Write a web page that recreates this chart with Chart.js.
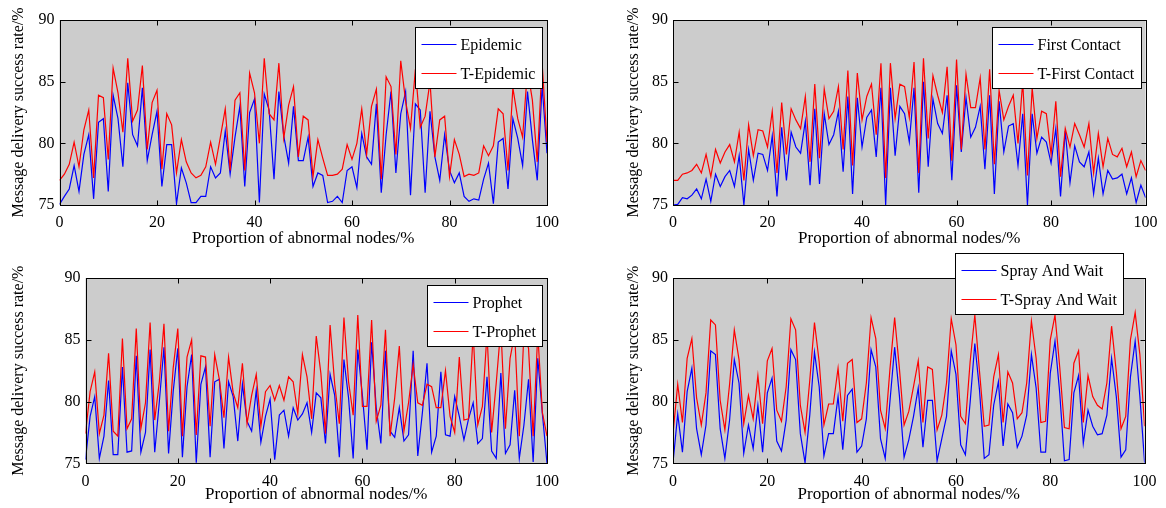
<!DOCTYPE html>
<html>
<head>
<meta charset="utf-8">
<script src="https://cdn.jsdelivr.net/npm/chart.js@4.4.1/dist/chart.umd.min.js"></script>
<style>
  html, body { margin: 0; padding: 0; background: #fff; }
  #page { position: relative; width: 1166px; height: 508px; overflow: hidden; }
  canvas { position: absolute; }
</style>
</head>
<body>
<div id="page">
  <canvas id="c-epidemic" width="583" height="250" style="left:0;top:0"></canvas>
  <canvas id="c-first" width="583" height="250" style="left:583px;top:0"></canvas>
  <canvas id="c-prophet" width="583" height="258" style="left:0;top:250px"></canvas>
  <canvas id="c-spray" width="583" height="258" style="left:583px;top:250px"></canvas>
</div>
<script>
// x axis: proportion of abnormal nodes (%), one point per percent
const nodes = Array.from({ length: 101 }, (_, i) => i);
const xTicks = [0, 20, 40, 60, 80, 100];
const yTicks = [75, 80, 85, 90];

// values
const epidemic = [75.05, 75.7, 76.3, 78.2, 76.1, 79.1, 80.7, 75.5, 81.7, 82.0, 76.1, 83.9, 82.0, 78.1, 84.9, 80.7, 79.8, 84.5, 78.6, 80.7,
  82.6, 76.5, 79.9, 79.9, 75.1, 78.0, 76.8, 75.2, 75.2, 75.7, 75.7, 78.1, 77.2, 77.6, 81.0, 77.5, 80.5, 83.0, 76.5, 82.5,
  83.6, 75.2, 84.0, 82.7, 77.1, 84.2, 80.6, 78.4, 83.0, 78.6, 78.6, 80.5, 76.5, 77.6, 77.4, 75.2, 75.3, 75.7, 75.2, 77.8,
  78.1, 76.4, 80.8, 78.9, 78.3, 83.2, 76.0, 80.7, 84.2, 77.6, 82.4, 84.2, 75.8, 83.2, 82.7, 76.0, 82.6, 78.9, 77.0, 80.7,
  77.8, 76.8, 77.6, 75.7, 75.3, 75.5, 75.4, 77.1, 78.4, 75.1, 80.1, 80.4, 76.3, 82.0, 80.4, 78.2, 84.2, 80.3, 77.0, 84.7, 79.2];
const tEpidemic = [77.0, 77.5, 78.3, 80.1, 78.1, 81.1, 82.7, 77.2, 83.9, 83.7, 78.7, 86.1, 84.1, 80.9, 86.9, 81.8, 82.7, 86.3, 79.5, 83.3,
  84.3, 77.9, 82.4, 81.5, 77.6, 80.3, 78.5, 77.6, 77.2, 77.4, 78.1, 80.1, 78.3, 80.5, 82.8, 77.8, 83.5, 84.1, 77.8, 85.7,
  84.1, 80.0, 86.9, 82.4, 81.9, 86.5, 80.4, 83.1, 84.6, 78.9, 82.2, 81.9, 77.3, 80.3, 78.8, 77.4, 77.4, 77.5, 77.9, 79.9,
  78.7, 80.0, 82.8, 79.1, 83.0, 84.4, 77.1, 85.4, 84.6, 79.1, 86.7, 83.4, 81.2, 86.0, 81.3, 82.2, 85.0, 78.9, 81.9, 82.2,
  77.3, 80.3, 79.1, 77.3, 77.5, 77.4, 77.6, 79.8, 79.0, 79.8, 82.8, 82.4, 77.8, 84.5, 82.0, 80.5, 86.0, 83.5, 78.5, 86.5, 80.1];

const firstContact = [75.0, 75.05, 75.6, 75.5, 75.8, 76.3, 75.5, 77.1, 75.3, 77.5, 76.5, 77.3, 77.8, 76.5, 79.0, 75.0, 79.5, 77.0, 79.2, 79.1,
  77.8, 80.6, 75.7, 81.3, 77.0, 80.9, 79.7, 79.2, 81.8, 76.6, 82.8, 76.7, 82.4, 79.9, 80.7, 82.6, 77.7, 83.8, 75.9, 83.7,
  79.7, 82.1, 82.7, 78.9, 84.5, 75.0, 84.5, 79.0, 83.0, 82.4, 80.1, 84.5, 76.0, 85.0, 78.1, 83.6, 81.6, 80.8, 83.9, 77.0,
  84.7, 79.3, 83.7, 80.5, 81.3, 83.0, 77.9, 83.9, 75.9, 83.4, 79.3, 81.4, 81.6, 78.2, 82.4, 75.0, 82.4, 79.2, 80.5, 80.1,
  78.4, 81.2, 75.7, 81.0, 76.8, 79.8, 78.5, 78.1, 79.3, 75.9, 78.8, 75.9, 77.8, 77.1, 77.2, 77.5, 75.9, 77.2, 75.2, 76.6, 75.6];
const tFirstContact = [77.0, 77.0, 77.5, 77.6, 77.8, 78.3, 77.6, 79.1, 77.3, 79.5, 78.4, 79.3, 79.9, 78.5, 80.9, 77.0, 81.5, 79.0, 81.1, 81.0,
  79.7, 82.6, 77.6, 83.3, 79.1, 82.8, 81.9, 81.2, 83.8, 78.5, 84.8, 78.8, 84.4, 82.0, 82.6, 84.6, 79.5, 85.9, 78.2, 85.7,
  81.9, 83.8, 84.8, 80.7, 86.5, 77.2, 86.5, 82.0, 84.8, 84.6, 82.1, 86.6, 77.6, 86.9, 80.4, 85.5, 83.9, 82.5, 86.2, 78.6,
  86.8, 79.5, 85.6, 82.9, 82.9, 85.3, 79.5, 86.0, 78.3, 84.3, 81.9, 83.0, 83.9, 80.0, 85.0, 77.4, 84.5, 80.4, 82.6, 82.4,
  79.1, 83.4, 77.3, 81.2, 79.7, 81.6, 80.7, 79.7, 81.6, 77.6, 80.8, 78.1, 80.4, 79.1, 78.9, 79.6, 78.1, 79.3, 77.3, 78.6, 77.8];

const prophet = [75.3, 78.8, 80.4, 75.4, 77.2, 81.7, 75.7, 75.7, 82.8, 75.9, 76.0, 83.7, 75.9, 77.5, 84.2, 75.9, 80.0, 84.4, 75.8, 80.8,
  84.3, 75.5, 81.2, 83.8, 75.05, 81.4, 82.8, 75.5, 81.6, 81.8, 76.2, 81.6, 80.4, 76.8, 81.4, 78.4, 77.6, 80.9, 76.7, 78.8,
  80.2, 75.3, 78.9, 79.3, 77.2, 79.5, 78.5, 79.0, 79.9, 77.5, 80.7, 80.3, 76.6, 82.2, 80.5, 75.5, 83.4, 80.3, 75.4, 84.2,
  80.5, 76.1, 84.8, 79.5, 76.6, 84.1, 77.6, 77.1, 79.5, 76.8, 77.3, 84.1, 75.6, 79.1, 83.1, 75.9, 77.2, 82.4, 77.3, 77.2,
  80.4, 78.8, 76.9, 78.6, 79.9, 76.6, 77.0, 82.0, 76.0, 75.4, 82.3, 75.8, 76.5, 80.9, 75.4, 78.1, 81.8, 75.1, 83.5, 79.0, 75.0];
const tProphet = [77.4, 80.8, 82.4, 77.4, 78.9, 83.9, 77.6, 77.2, 85.1, 77.8, 78.6, 85.9, 77.8, 79.9, 86.4, 78.5, 81.6, 86.3, 77.6, 82.7,
  85.9, 77.2, 83.6, 85.0, 77.3, 83.7, 83.6, 78.0, 83.8, 81.8, 78.7, 83.6, 80.7, 79.5, 83.1, 78.2, 80.5, 82.2, 78.0, 80.8,
  81.3, 80.1, 81.3, 80.1, 82.0, 81.6, 79.0, 83.8, 82.0, 78.6, 85.3, 82.3, 77.4, 86.2, 81.4, 78.2, 86.8, 81.6, 78.9, 87.0,
  79.6, 79.6, 86.6, 78.4, 79.7, 85.8, 77.2, 80.3, 84.5, 77.6, 79.9, 83.0, 79.9, 79.7, 81.4, 81.2, 79.5, 79.5, 82.5, 78.8,
  77.5, 83.6, 78.5, 78.6, 85.5, 78.1, 79.6, 85.5, 77.5, 81.5, 86.0, 77.8, 83.5, 85.5, 77.2, 85.5, 84.3, 77.2, 85.5, 79.1, 77.2];

const sprayWait = [75.05, 79.0, 75.9, 80.8, 82.7, 77.8, 75.7, 78.1, 84.1, 83.8, 77.8, 75.4, 78.5, 83.4, 81.5, 75.8, 78.1, 76.2, 79.7, 75.9,
  80.7, 81.9, 76.8, 76.0, 78.5, 84.2, 83.4, 77.4, 75.05, 78.9, 84.0, 81.2, 75.6, 77.4, 77.4, 80.4, 76.1, 80.5, 81.0, 75.9,
  76.4, 78.6, 84.2, 82.8, 77.0, 75.4, 80.0, 84.4, 80.5, 75.5, 76.9, 78.8, 81.1, 76.3, 80.1, 80.1, 75.2, 77.0, 78.8, 84.1,
  82.2, 76.5, 75.7, 79.9, 84.7, 80.9, 75.4, 75.7, 79.7, 81.6, 76.4, 79.8, 79.1, 76.3, 77.2, 78.9, 83.8, 81.1, 75.9, 75.9,
  82.3, 84.9, 80.7, 75.2, 75.3, 80.7, 82.1, 76.6, 79.3, 78.0, 77.3, 77.4, 78.9, 83.5, 80.4, 75.5, 76.1, 82.0, 84.9, 80.4, 75.05];
const tSprayWait = [77.4, 81.4, 78.3, 83.5, 85.1, 80.3, 78.1, 80.7, 86.6, 86.2, 80.1, 77.7, 81.4, 85.8, 83.4, 78.2, 80.5, 78.6, 82.1, 78.2,
  83.3, 84.3, 79.3, 78.4, 81.2, 86.7, 85.8, 79.7, 77.5, 81.7, 86.4, 83.2, 78.1, 79.8, 79.8, 82.7, 78.4, 83.1, 83.4, 78.3,
  78.6, 81.5, 86.8, 85.1, 79.3, 77.8, 82.6, 86.8, 82.7, 78.1, 79.2, 81.2, 83.3, 78.3, 82.8, 82.6, 77.7, 78.9, 81.5, 86.7,
  84.6, 78.8, 78.2, 83.2, 87.0, 82.4, 78.0, 78.1, 82.0, 83.8, 78.3, 82.4, 81.5, 78.6, 79.1, 81.5, 86.5, 83.5, 78.3, 78.4,
  85.0, 87.0, 82.8, 77.9, 77.8, 83.1, 84.1, 78.3, 82.1, 80.4, 79.7, 79.4, 81.5, 86.1, 82.4, 77.8, 78.8, 85.0, 87.2, 83.8, 78.0];

Chart.defaults.font.family = '"Liberation Serif", "Times New Roman", serif';
Chart.defaults.color = '#000';

// gray axes background, box and inward tick marks like a MATLAB figure
const matlabAxes = {
  id: 'matlabAxes',
  beforeDatasetsDraw(chart) {
    const { ctx, chartArea: a } = chart;
    ctx.save();
    ctx.fillStyle = '#cccccc';
    ctx.fillRect(a.left, a.top, a.right - a.left, a.bottom - a.top);
    ctx.restore();
  },
  afterDatasetsDraw(chart) {
    const { ctx, chartArea: a, scales: { x, y } } = chart;
    const l = Math.round(a.left) + 0.5, r = Math.round(a.right) + 0.5;
    const t = Math.round(a.top) + 0.5, b = Math.round(a.bottom) + 0.5;
    ctx.save();
    ctx.strokeStyle = '#000';
    ctx.lineWidth = 1;
    ctx.beginPath();
    x.ticks.forEach(tk => {
      const px = Math.round(x.getPixelForValue(tk.value)) + 0.5;
      ctx.moveTo(px, b); ctx.lineTo(px, b - 5);
      ctx.moveTo(px, t); ctx.lineTo(px, t + 5);
    });
    y.ticks.forEach(tk => {
      const py = Math.round(y.getPixelForValue(tk.value)) + 0.5;
      ctx.moveTo(l, py); ctx.lineTo(l + 5, py);
      ctx.moveTo(r, py); ctx.lineTo(r - 5, py);
    });
    ctx.stroke();
    ctx.strokeRect(l, t, r - l, b - t);
    ctx.restore();
  }
};

// legend in a white framed box
const boxLegend = {
  id: 'boxLegend',
  afterDraw(chart, args, opts) {
    const { ctx, chartArea: a } = chart;
    const sets = chart.data.datasets;
    ctx.save();
    ctx.font = '16px "Liberation Serif", "Times New Roman", serif';
    const textW = Math.max(...sets.map(d => ctx.measureText(d.label).width));
    const w = Math.round(6 + 35 + 4 + textW + 7);
    const h = 61;
    const left = Math.round(a.right - opts.right - w) + 0.5;
    const top = Math.round(a.top + opts.top) + 0.5;
    ctx.fillStyle = '#fff';
    ctx.fillRect(left, top, w, h);
    ctx.strokeStyle = '#000';
    ctx.lineWidth = 1;
    ctx.strokeRect(left, top, w, h);
    sets.forEach((d, i) => {
      const yy = Math.round(top + 16 + i * 29) + 0.5;
      ctx.strokeStyle = d.borderColor;
      ctx.beginPath();
      ctx.moveTo(left + 6, yy);
      ctx.lineTo(left + 41, yy);
      ctx.stroke();
      ctx.fillStyle = '#000';
      ctx.textBaseline = 'middle';
      ctx.fillText(d.label, left + 45, yy + 1);
    });
    ctx.restore();
  }
};

function makeChart(id, cfg) {
  return new Chart(document.getElementById(id), {
    type: 'line',
    data: {
      labels: nodes,
      datasets: [
        { label: cfg.names[0], data: cfg.base, borderColor: '#0000ff', borderWidth: 1.2, pointRadius: 0, tension: 0, order: 1 },
        { label: cfg.names[1], data: cfg.trust, borderColor: '#ff0000', borderWidth: 1.2, pointRadius: 0, tension: 0, order: 0 }
      ]
    },
    options: {
      responsive: false,
      animation: false,
      events: [],
      layout: { padding: { left: 0, top: cfg.top, right: cfg.right, bottom: 0 } },
      plugins: {
        legend: { display: false },
        tooltip: { enabled: false },
        boxLegend: cfg.legend
      },
      scales: {
        x: {
          type: 'linear', min: 0, max: 100,
          afterBuildTicks: s => { s.ticks = xTicks.map(v => ({ value: v })); },
          ticks: { padding: 8.4, maxRotation: 0, font: { size: 16 } },
          grid: { display: false, drawTicks: false },
          border: { display: false },
          title: { display: true, text: 'Proportion of abnormal nodes/%', font: { size: 17 }, padding: { top: 0, bottom: cfg.xTitlePad } },
          afterFit: s => { s.height = cfg.xHeight; }
        },
        y: {
          min: 75, max: 90,
          afterBuildTicks: s => { s.ticks = yTicks.map(v => ({ value: v })); },
          ticks: { padding: 5, font: { size: 16 } },
          grid: { display: false, drawTicks: false },
          border: { display: false },
          title: { display: true, text: 'Message delivery success rate/%', font: { size: 16 }, padding: { top: cfg.yTitlePad, bottom: 0 } },
          afterFit: s => { s.width = cfg.yWidth; }
        }
      }
    },
    plugins: [matlabAxes, boxLegend]
  });
}

makeChart('c-epidemic', {
  names: ['Epidemic', 'T-Epidemic'], base: epidemic, trust: tEpidemic,
  top: 20, right: 36, yWidth: 59.5, xHeight: 45, xTitlePad: 1.3, yTitlePad: 9.4,
  legend: { right: 5, top: 7 }
});
makeChart('c-first', {
  names: ['First Contact', 'T-First Contact'], base: firstContact, trust: tFirstContact,
  top: 20, right: 19.5, yWidth: 90, xHeight: 45, xTitlePad: 1.3, yTitlePad: 40.9,
  legend: { right: 4.5, top: 7 }
});
makeChart('c-prophet', {
  names: ['Prophet', 'T-Prophet'], base: prophet, trust: tProphet,
  top: 28, right: 36, yWidth: 85.5, xHeight: 44.7, xTitlePad: 2.8, yTitlePad: 9.4,
  legend: { right: 5, top: 7 }
});
makeChart('c-spray', {
  names: ['Spray And Wait', 'T-Spray And Wait'], base: sprayWait, trust: tSprayWait,
  top: 28, right: 21.4, yWidth: 90, xHeight: 44.7, xTitlePad: 2.8, yTitlePad: 40.9,
  legend: { right: 21.6, top: -25 }
});
</script>
</body>
</html>
